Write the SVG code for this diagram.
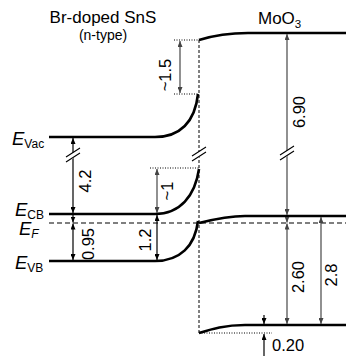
<svg xmlns="http://www.w3.org/2000/svg" width="346" height="356" viewBox="0 0 346 356">
<style>
text{font-family:"Liberation Sans",Arial,sans-serif;fill:#000}
.band{fill:none;stroke:#000;stroke-width:2.6}
.dot{fill:none;stroke:#000;stroke-width:1;stroke-dasharray:1,1.5}
.ef{fill:none;stroke:#555;stroke-width:1.3;stroke-dasharray:5,3}
.ifc{fill:none;stroke:#000;stroke-width:1;stroke-dasharray:3,2}
.ab{fill:none;stroke:#000;stroke-width:1.2}
.ag{fill:none;stroke:#555;stroke-width:1.3}
.num{font-size:16.5px}
.E{font-size:18.5px;font-style:italic}
.sub{font-size:12px}
.brk{fill:none;stroke:#000;stroke-width:1.1}
</style>
<defs>
<marker id="ah" markerUnits="userSpaceOnUse" markerWidth="6" markerHeight="5" refX="6" refY="2.5" orient="auto-start-reverse">
<path d="M0,0 L6,2.5 L0,5 z" fill="#000"/>
</marker>
<marker id="ahg" markerUnits="userSpaceOnUse" markerWidth="6" markerHeight="5" refX="6" refY="2.5" orient="auto-start-reverse">
<path d="M0,0 L6,2.5 L0,5 z" fill="#444"/>
</marker>
</defs>
<rect width="346" height="356" fill="#fff"/>

<g id="titles">
<text x="103" y="23" font-size="17" text-anchor="middle">Br-doped SnS</text>
<text x="103" y="40" font-size="14" text-anchor="middle">(n-type)</text>
<text x="258" y="24" font-size="17">MoO<tspan font-size="11.5" dy="4">3</tspan></text>
</g>

<g id="guides">
<path class="ef" d="M49,223 H346"/>
<path class="ifc" d="M199,40 V333"/>
<path class="dot" d="M174,40 H199 M174,94 H199 M150,168 H199 M199,333 H272"/>
</g>

<g id="sns-bands">
<path class="band" d="M49,137 H155 C180,137 195,122 198,94"/>
<path class="band" d="M49,214 H155 C180,214 195,196 199,169"/>
<path class="band" d="M49,261 H155 C180,261 195,246 198,221"/>
</g>

<g id="moo3-bands">
<path class="band" d="M199,40 C215,35 228,33 248,33 H346"/>
<path class="band" d="M199,223 C215,219 228,216 245,216 H346"/>
<path class="band" d="M199,333 C212,329 225,325 245,325 H346"/>
</g>

<g id="labels-E">
<text class="E" x="12" y="145">E<tspan class="sub" font-style="normal" dy="3">Vac</tspan></text>
<text class="E" x="15" y="216">E<tspan class="sub" font-style="normal" dy="3">CB</tspan></text>
<text class="E" x="19" y="235">E<tspan class="sub" dy="3">F</tspan></text>
<text class="E" x="15" y="269">E<tspan class="sub" font-style="normal" dy="3">VB</tspan></text>
</g>

<g id="connectors">
<path class="ag" d="M180,41 V93" marker-start="url(#ahg)" marker-end="url(#ahg)"/>
<path class="ab" d="M73,138 V213" marker-start="url(#ah)" marker-end="url(#ah)"/>
<path class="ab" d="M73,215 V222.5" marker-end="url(#ah)"/>
<path class="ab" d="M73,223.5 V260" marker-start="url(#ah)" marker-end="url(#ah)"/>
<path class="ag" d="M157,169 V213" marker-start="url(#ahg)" marker-end="url(#ahg)"/>
<path class="ab" d="M157,215 V260" marker-start="url(#ah)" marker-end="url(#ah)"/>
<path class="ag" d="M287,34 V215" marker-start="url(#ahg)" marker-end="url(#ahg)"/>
<path class="ag" d="M287,217 V222.5" marker-end="url(#ahg)"/>
<path class="ag" d="M287,223.5 V324" marker-start="url(#ahg)" marker-end="url(#ahg)"/>
<path class="ag" d="M321,217 V324" marker-start="url(#ahg)" marker-end="url(#ahg)"/>
<path class="ab" d="M264,315 V324" marker-end="url(#ah)"/>
<path class="ab" d="M264,356 V334" marker-end="url(#ah)"/>
</g>

<g id="breaks">
<path d="M66,157 L80,148 L80,154 L66,163 z" fill="#fff"/>
<path class="brk" d="M66,157 L80,148 M66,162 L80,153"/>
<path d="M192,156 L206,147 L206,153 L192,162 z" fill="#fff"/>
<path class="brk" d="M192,156 L206,147 M192,161 L206,152"/>
<path d="M280,155 L294,146 L294,152 L280,161 z" fill="#fff"/>
<path class="brk" d="M280,155 L294,146 M280,160 L294,151"/>
</g>

<g id="numbers">
<text class="num" text-anchor="middle" dominant-baseline="central" transform="translate(165,75) rotate(-90)">~1.5</text>
<text class="num" text-anchor="middle" dominant-baseline="central" transform="translate(85,181) rotate(-90)">4.2</text>
<text class="num" text-anchor="middle" dominant-baseline="central" transform="translate(167,191) rotate(-90)">~1</text>
<text class="num" text-anchor="middle" dominant-baseline="central" transform="translate(88,244) rotate(-90)">0.95</text>
<text class="num" text-anchor="middle" dominant-baseline="central" transform="translate(145,240) rotate(-90)">1.2</text>
<text class="num" text-anchor="middle" dominant-baseline="central" transform="translate(299,112) rotate(-90)">6.90</text>
<text class="num" text-anchor="middle" dominant-baseline="central" transform="translate(298,277) rotate(-90)">2.60</text>
<text class="num" text-anchor="middle" dominant-baseline="central" transform="translate(331,275) rotate(-90)">2.8</text>
<text class="num" x="272" y="351">0.20</text>
</g>
</svg>
